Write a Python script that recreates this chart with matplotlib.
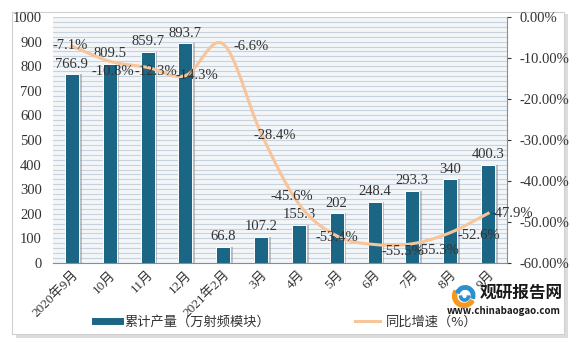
import numpy as np
import matplotlib.pyplot as plt
from matplotlib.patches import Rectangle, Wedge
from matplotlib.lines import Line2D

plt.rcParams['font.family'] = ['Noto Sans CJK SC', 'DejaVu Sans']
SERIF = ['Liberation Serif', 'Noto Sans CJK SC']

months = ['2020年9月', '10月', '11月', '12月', '2021年2月', '3月', '4月',
          '5月', '6月', '7月', '8月', '9月']
output = [766.9, 809.5, 859.7, 893.7, 66.8, 107.2, 155.3, 202, 248.4,
          293.3, 340, 400.3]
growth = [-7.1, -10.8, -12.3, -14.3, -6.6, -28.4, -45.6, -53.4, -55.5,
          -55.3, -52.6, -47.9]
out_labels = ['766.9', '809.5', '859.7', '893.7', '66.8', '107.2', '155.3',
              '202', '248.4', '293.3', '340', '400.3']

# where each growth label sits relative to its point (pixels: right, down)
growth_label_shift = [(-2, -1), (3, 10), (8, 4), (11, 0), (28, 2), (14, 2),
                      (-7, -7), (0, 2), (28, 7), (26, 7), (29, 3), (24, 0)]


def smooth(x, y, n=30):
    # catmull-rom, close to Excel's smoothed line
    x = np.asarray(x, float)
    y = np.asarray(y, float)
    px = np.concatenate([[2 * x[0] - x[1]], x, [2 * x[-1] - x[-2]]])
    py = np.concatenate([[2 * y[0] - y[1]], y, [2 * y[-1] - y[-2]]])
    xs, ys = [], []
    t = np.linspace(0, 1, n)
    for i in range(1, len(px) - 2):
        for p, out in ((px, xs), (py, ys)):
            p0, p1, p2, p3 = p[i - 1], p[i], p[i + 1], p[i + 2]
            out.extend(0.5 * (2 * p1 + (-p0 + p2) * t
                              + (2 * p0 - 5 * p1 + 4 * p2 - p3) * t ** 2
                              + (-p0 + 3 * p1 - 3 * p2 + p3) * t ** 3))
    return np.array(xs), np.array(ys)


fig = plt.figure(figsize=(5.75, 3.46), dpi=100)
fig.patch.set_facecolor('white')

# frame with shadow
fig.patches.append(Rectangle((16 / 575, 8 / 346), 552 / 575, 324 / 346,
                             transform=fig.transFigure, facecolor='#dcdcdc',
                             edgecolor='none', zorder=-2))
fig.patches.append(Rectangle((12 / 575, 12 / 346), 552 / 575, 322 / 346,
                             transform=fig.transFigure, facecolor='white',
                             edgecolor='#d0d0d0', lw=0.8, zorder=-1))

ax = fig.add_axes([53 / 575, 83 / 346, 454 / 575, 246 / 346])
ax.set_facecolor('#f3f6f9')
x = np.arange(len(months))

for yv in np.arange(0, 1001, 20):
    ax.axhline(yv, color='#c8d2dc', lw=0.8, zorder=0)

ax.bar(x + 0.07, output, width=0.37, color='#8f959b', alpha=0.55, zorder=1)
ax.bar(x, output, width=0.37, color='#1b6585', edgecolor='white',
       lw=0.7, zorder=2)
for xi, v, s in zip(x, output, out_labels):
    ax.text(xi, v + 14, s, ha='center', va='bottom', fontsize=10.5,
            color='#333333', family=SERIF, zorder=5)

ax.set_xlim(-0.5, 11.5)
ax.set_ylim(0, 1000)
ax.set_yticks(range(0, 1001, 100))
ax.tick_params(axis='y', length=0, labelsize=10.5, colors='#333333', pad=8)
ax.tick_params(axis='x', length=0, labelsize=9.5, colors='#333333', pad=4)
ax.set_xticks(x)
ax.set_xticklabels(months, rotation=45, ha='right', rotation_mode='anchor',
                   family=SERIF)
for lab in ax.get_yticklabels():
    lab.set_family(SERIF)
for side in ('top', 'left', 'right'):
    ax.spines[side].set_visible(False)
ax.spines['bottom'].set_color('#8c8c8c')

ax2 = ax.twinx()
sx, sy = smooth(x, growth)
ax2.plot(sx, sy, color='#f8c49a', lw=2.2, zorder=3)
ax2.set_ylim(-60, 0)
ax2.set_yticks(range(-60, 1, 10))
ax2.set_yticklabels(['%.2f%%' % v for v in range(-60, 1, 10)], family=SERIF)
ax2.tick_params(axis='y', length=3, labelsize=10.5, colors='#333333',
                pad=6)
for side in ('top', 'left', 'bottom'):
    ax2.spines[side].set_visible(False)
ax2.spines['right'].set_color('#8c8c8c')

for xi, g, (dx, dy) in zip(x, growth, growth_label_shift):
    ax2.annotate('%.1f%%' % g, (xi, g), xytext=(dx * 0.72, -dy * 0.72),
                 textcoords='offset points', ha='center', va='center',
                 fontsize=10.5, color='#333333', family=SERIF, zorder=6)

handles = [Line2D([], [], color='#1b6585', lw=5),
           Line2D([], [], color='#f8c49a', lw=2.2)]
fig.legend(handles, ['累计产量（万射频模块）', '同比增速（%）'], loc='center',
           bbox_to_anchor=(0.497, 0.069), ncol=2, frameon=False,
           fontsize=9.5, handlelength=1.9, handletextpad=0.4,
           columnspacing=6.4, labelcolor='#333333')

# watermark
logo = fig.add_axes([450 / 575, 38 / 346, 28 / 575, 24 / 346])
logo.set_xlim(-1.2, 1.2)
logo.set_ylim(-1.05, 1.05)
logo.set_aspect('equal')
logo.axis('off')
logo.add_patch(Wedge((0, 0), 1.0, 150, 330, width=0.35, color='#f39a1e'))
logo.add_patch(Wedge((0.1, 0.05), 0.85, -20, 160, width=0.3,
                     color='#2c8fd0'))
logo.add_patch(Wedge((0.05, 0.0), 0.45, 180, 360, width=0.2,
                     color='#2c8fd0'))
fig.text(521 / 575, 1 - 293 / 346, '观研报告网', fontsize=12,
         fontweight='bold', ha='center', va='center', color='#1a1a1a')
fig.text(504 / 575, 1 - 311 / 346, 'www.chinabaogao.com', fontsize=7,
         fontweight='bold', ha='center', va='center', color='#1a1a1a')

fig.savefig('out.png', dpi=100)
